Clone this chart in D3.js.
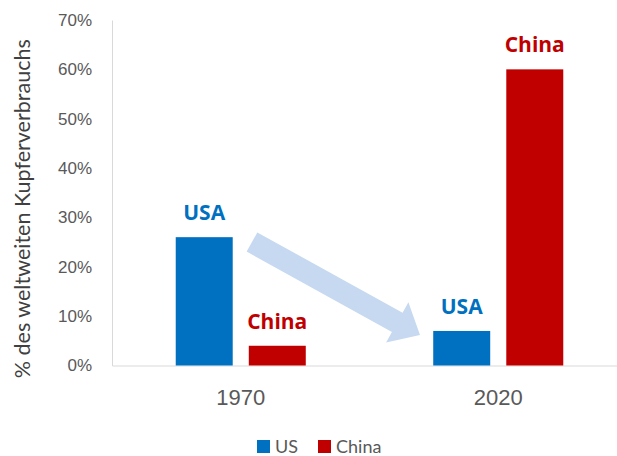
<!DOCTYPE html>
<html>
<head>
<meta charset="utf-8">
<script src="https://cdn.jsdelivr.net/npm/d3@7"></script>
<style>
  html, body { margin: 0; padding: 0; background: #fff; }
  svg { display: block; font-family: Lato, "Open Sans", sans-serif; }
</style>
</head>
<body>
<div id="chart"></div>
<script>
const years = ['1970', '2020']
const countries = ['US', 'China']
const usShare = [0.26, 0.07]
const chinaShare = [0.04, 0.60]
const barLabels = ['USA', 'China']
const yTicks = [0, 0.1, 0.2, 0.3, 0.4, 0.5, 0.6, 0.7]

const colors = { US: '#0070c0', China: '#c00000' }
const width = 617, height = 456
const margin = { top: 20, right: -10, bottom: 90.5, left: 112 }

const rows = years.map((yr, i) => ({ year: yr, US: usShare[i], China: chinaShare[i] }))

const svg = d3.select('#chart').append('svg')
  .attr('width', width)
  .attr('height', height)

const x0 = d3.scaleBand().domain(years)
  .range([margin.left, width - margin.right])
  .paddingInner(0.495).paddingOuter(0.2475)
const x1 = d3.scaleBand().domain(countries)
  .range([0, x0.bandwidth()])
  .paddingInner(0.22)
const y = d3.scaleLinear().domain([0, 0.7]).range([height - margin.bottom, margin.top])

// axes
const yAxis = svg.append('g')
  .attr('transform', 'translate(' + margin.left + ',0)')
  .call(d3.axisLeft(y).tickValues(yTicks).tickFormat(d3.format('.0%')).tickSize(0).tickPadding(20))
yAxis.select('.domain').attr('stroke', '#d9d9d9')
yAxis.selectAll('text').attr('fill', '#595959').style('font-size', '17px')

const xAxis = svg.append('g')
  .attr('transform', 'translate(0,' + y(0) + ')')
  .call(d3.axisBottom(x0).tickSize(0).tickPadding(24).tickSizeOuter(0))
xAxis.select('.domain').attr('stroke', '#d9d9d9')
xAxis.selectAll('text').attr('fill', '#595959').style('font-size', '22px')

svg.append('text')
  .attr('transform', 'translate(30,' + (y(0.35) + 16) + ') rotate(-90)')
  .attr('text-anchor', 'middle')
  .attr('fill', '#404040')
  .style('font-size', '21.5px')
  .text('% des weltweiten Kupferverbrauchs')

// arrow (annotation)
const tail = [252, 242], tip = [420, 335]
const len = Math.hypot(tip[0] - tail[0], tip[1] - tail[1])
const ang = Math.atan2(tip[1] - tail[1], tip[0] - tail[0]) * 180 / Math.PI
const headLen = 26, shaft = 11, head = 23
svg.append('path')
  .attr('transform', 'translate(' + tail + ') rotate(' + ang + ')')
  .attr('d', 'M0,' + (-shaft) + 'L' + (len - headLen) + ',' + (-shaft) + 'L' + (len - headLen) + ',' + (-head) +
    'L' + len + ',0L' + (len - headLen) + ',' + head + 'L' + (len - headLen) + ',' + shaft + 'L0,' + shaft + 'Z')
  .attr('fill', '#c6d9f0')

// bars
const groups = svg.append('g').selectAll('g')
  .data(rows).enter().append('g')
  .attr('transform', d => 'translate(' + x0(d.year) + ',0)')

const cells = groups.selectAll('g')
  .data(d => countries.map((c, i) => ({ key: c, value: d[c], label: barLabels[i] })))
  .enter().append('g')

cells.append('rect')
  .attr('x', d => x1(d.key))
  .attr('y', d => y(d.value))
  .attr('width', x1.bandwidth())
  .attr('height', d => y(0) - y(d.value))
  .attr('fill', d => colors[d.key])

cells.append('text')
  .attr('x', d => x1(d.key) + x1.bandwidth() / 2)
  .attr('y', d => y(d.value) - 17)
  .attr('text-anchor', 'middle')
  .attr('fill', d => colors[d.key])
  .style('font-family', '"Open Sans", sans-serif')
  .style('font-size', '21px')
  .style('font-weight', 'bold')
  .text(d => d.label)

// legend
const legend = svg.append('g').attr('transform', 'translate(257,440)')
const items = legend.selectAll('g').data(countries).enter().append('g')
  .attr('transform', (d, i) => 'translate(' + (i * 61) + ',0)')
items.append('rect').attr('width', 13).attr('height', 13).attr('fill', d => colors[d])
items.append('text').attr('x', 18).attr('y', 13)
  .attr('fill', '#595959').style('font-size', '18px')
  .text(d => d)
</script>
</body>
</html>
